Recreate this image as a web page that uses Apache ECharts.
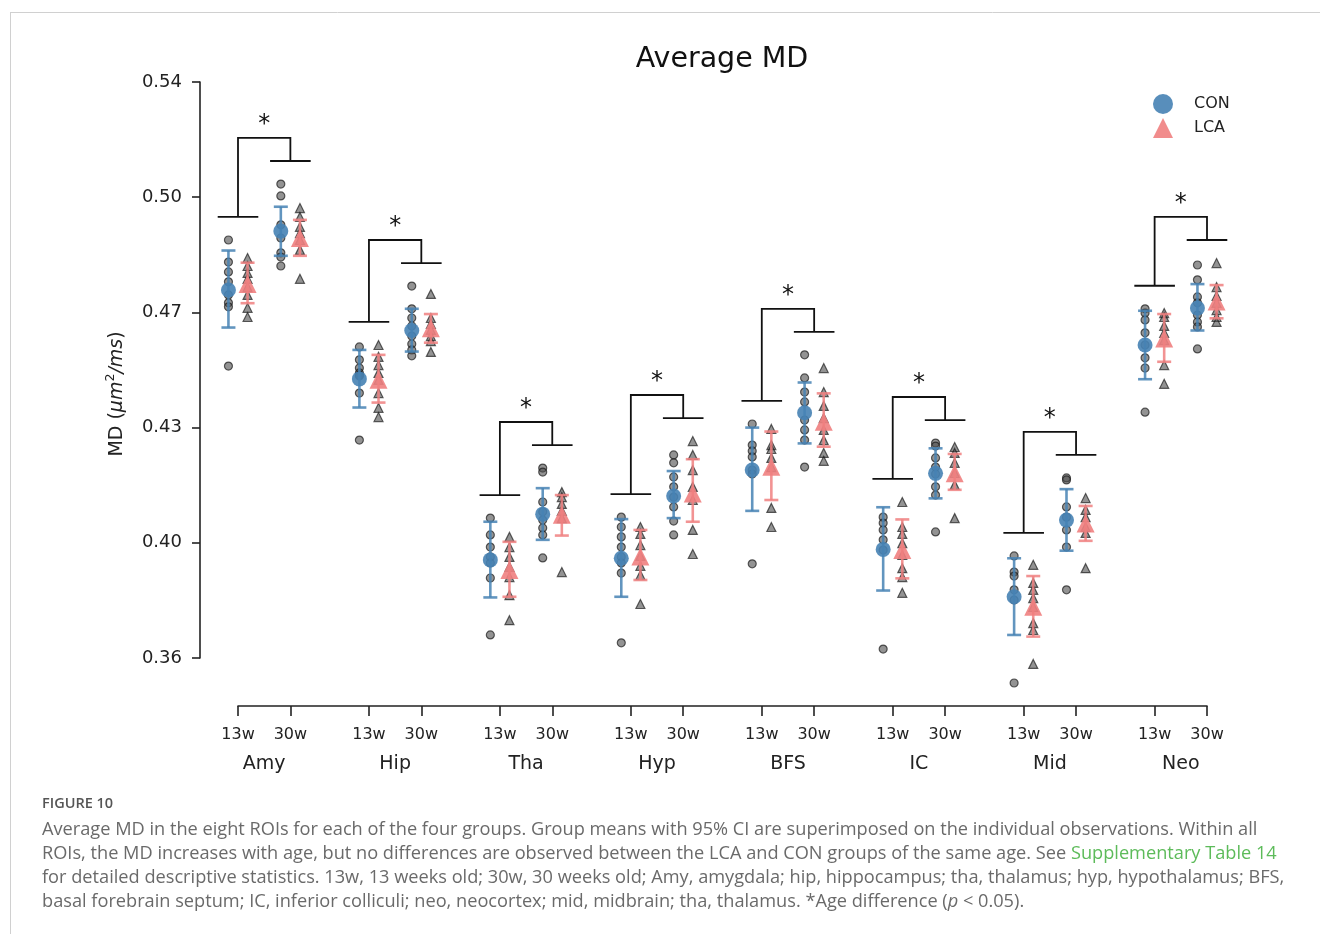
<!DOCTYPE html>
<html><head><meta charset="utf-8">
<script src="https://cdn.jsdelivr.net/npm/echarts@6/dist/echarts.min.js"></script>
<style>html,body{margin:0;padding:0;background:#fff}#c{width:1320px;height:934px}</style>
</head><body><div id="c"></div>
<script>
// ---------------- data ----------------
const regions = ['Amy','Hip','Tha','Hyp','BFS','IC','Mid','Neo'];
const ages = ['13w','30w'];
const groups = ['CON','LCA'];
const yTickValues = [0.36,0.395,0.43,0.465,0.50,0.535];
const yTickLabels = ['0.36','0.40','0.43','0.47','0.50','0.54'];

// individual observations (MD, um^2/ms)
const conPts13 = [
  [0.4870,0.4803,0.4773,0.4743,0.4703,0.4679,0.4667,0.4487],
  [0.4545,0.4506,0.4481,0.4466,0.4460,0.4457,0.4405,0.4262],
  [0.4025,0.3974,0.3937,0.3907,0.3889,0.3843,0.3670],
  [0.4028,0.3998,0.3968,0.3937,0.3907,0.3889,0.3858,0.3646],
  [0.4311,0.4247,0.4229,0.4211,0.4171,0.4159,0.3886],
  [0.4028,0.4010,0.3989,0.3959,0.3928,0.3627],
  [0.3910,0.3861,0.3849,0.3807,0.3776,0.3524],
  [0.4661,0.4648,0.4627,0.4588,0.4551,0.4512,0.4481,0.4347]
];
const lcaPts13 = [
  [0.4815,0.4791,0.4770,0.4752,0.4727,0.4703,0.4664,0.4636],
  [0.4551,0.4515,0.4490,0.4466,0.4445,0.4405,0.4360,0.4332],
  [0.3968,0.3937,0.3907,0.3877,0.3846,0.3791,0.3715],
  [0.3998,0.3977,0.3943,0.3910,0.3880,0.3852,0.3764],
  [0.4296,0.4247,0.4235,0.4208,0.4180,0.4056,0.3998],
  [0.4074,0.3998,0.3977,0.3949,0.3913,0.3873,0.3846,0.3798],
  [0.3883,0.3828,0.3807,0.3782,0.3755,0.3706,0.3685,0.3582],
  [0.4648,0.4636,0.4609,0.4588,0.4566,0.4490,0.4433]
];
const conPts30 = [
  [0.5040,0.5004,0.4916,0.4876,0.4831,0.4818,0.4791],
  [0.4730,0.4661,0.4633,0.4609,0.4578,0.4554,0.4536,0.4518],
  [0.4177,0.4165,0.4074,0.4044,0.4019,0.3995,0.3974,0.3904],
  [0.4217,0.4193,0.4150,0.4120,0.4089,0.4059,0.4016,0.3974],
  [0.4521,0.4451,0.4408,0.4378,0.4323,0.4293,0.4262,0.4180],
  [0.4253,0.4244,0.4208,0.4180,0.4159,0.4120,0.4095,0.3983],
  [0.4147,0.4141,0.4059,0.4028,0.3989,0.3937,0.3807],
  [0.4794,0.4749,0.4697,0.4679,0.4642,0.4621,0.4606,0.4539]
];
const lcaPts30 = [
  [0.4967,0.4940,0.4910,0.4891,0.4870,0.4840,0.4752],
  [0.4706,0.4633,0.4615,0.4597,0.4578,0.4563,0.4530],
  [0.4104,0.4089,0.4068,0.4047,0.4025,0.3861],
  [0.4259,0.4217,0.4171,0.4120,0.4080,0.3989,0.3916],
  [0.4481,0.4408,0.4366,0.4329,0.4293,0.4262,0.4223,0.4199],
  [0.4241,0.4223,0.4193,0.4162,0.4126,0.4025],
  [0.4086,0.4050,0.4028,0.3998,0.3980,0.3873],
  [0.4800,0.4727,0.4700,0.4679,0.4657,0.4636,0.4621]
];

// group means and 95% CI
const conMean13 = [0.4718,0.4448,0.3898,0.3903,0.4171,0.3930,0.3786,0.4551];
const conCI13 = [[0.4604,0.4838],[0.4361,0.4536],[0.3784,0.4014],[0.3786,0.4022],[0.4047,0.4300],[0.3805,0.4058],[0.3670,0.3903],[0.4447,0.4655]];
const lcaMean13 = [0.4736,0.4445,0.3867,0.3908,0.4181,0.3928,0.3756,0.4571];
const lcaCI13 = [[0.4678,0.4801],[0.4376,0.4521],[0.3786,0.3953],[0.3837,0.3989],[0.4080,0.4288],[0.3842,0.4021],[0.3665,0.3849],[0.4500,0.4645]];
const conMean30 = [0.4897,0.4595,0.4037,0.4092,0.4345,0.4161,0.4019,0.4663];
const conCI30 = [[0.4822,0.4971],[0.4531,0.4661],[0.3959,0.4116],[0.4025,0.4168],[0.4252,0.4437],[0.4085,0.4237],[0.3926,0.4113],[0.4595,0.4736]];
const lcaMean30 = [0.4876,0.4602,0.4035,0.4100,0.4318,0.4161,0.4009,0.4683];
const lcaCI30 = [[0.4822,0.4931],[0.4558,0.4645],[0.3972,0.4095],[0.4014,0.4204],[0.4242,0.4404],[0.4111,0.4220],[0.3956,0.4062],[0.4632,0.4733]];

// significance (age difference) per region
const ageSignificant = [true,true,true,true,true,true,true,true];

// ---------------- layout constants ----------------
const AGE_GAP = 0.4;      // x distance 13w -> 30w within a region
const DODGE = 0.073;      // CON left / LCA right
const ARM = 0.155;        // bracket arm half width
const BR_OFF = 0.007;     // bracket offset above data
const FONT = "'DejaVu Sans', sans-serif";
const CAP = '"Open Sans", sans-serif';
const BLUE = '#4682b4', PINK = '#f08080';

function ptsData(arr, ageIdx, dodge) {
  const out = [];
  arr.forEach((vals, i) => vals.forEach(v => out.push([i + ageIdx * AGE_GAP + dodge, v])));
  return out;
}
function meanData(m13, m30, dodge) {
  const out = [];
  m13.forEach((v, i) => out.push([i + dodge, v]));
  m30.forEach((v, i) => out.push([i + AGE_GAP + dodge, v]));
  return out;
}
function ciData(c13, c30, dodge) {
  const out = [];
  c13.forEach((c, i) => out.push([i + dodge, c[0], c[1]]));
  c30.forEach((c, i) => out.push([i + AGE_GAP + dodge, c[0], c[1]]));
  return out;
}
const bracketData = regions.map((r, i) => {
  const m13 = Math.max(...conPts13[i], ...lcaPts13[i]) + BR_OFF;
  const m30 = Math.max(...conPts30[i], ...lcaPts30[i]) + BR_OFF;
  const top = Math.max(m13, m30) + BR_OFF;
  return [i, m13, m30, top, i + AGE_GAP];
}).filter((d, i) => ageSignificant[i]);

const xTickValues = regions.flatMap((r, i) => [i, i + AGE_GAP]);
const regionCenters = regions.map((r, i) => i + AGE_GAP / 2);

function errRender(color) {
  return function (params, api) {
    const x = api.value(0);
    const p1 = api.coord([x, api.value(1)]);
    const p2 = api.coord([x, api.value(2)]);
    const w = 7;
    const st = { stroke: color, lineWidth: 2.6, opacity: 0.85 };
    return { type: 'group', children: [
      { type: 'line', shape: { x1: p1[0], y1: p1[1], x2: p2[0], y2: p2[1] }, style: st },
      { type: 'line', shape: { x1: p1[0] - w, y1: p1[1], x2: p1[0] + w, y2: p1[1] }, style: st },
      { type: 'line', shape: { x1: p2[0] - w, y1: p2[1], x2: p2[0] + w, y2: p2[1] }, style: st }
    ]};
  };
}
function bracketRender(params, api) {
  const x13 = api.value(0), l13 = api.value(1), l30 = api.value(2), top = api.value(3), x30 = api.value(4);
  const a1 = api.coord([x13 - ARM, l13]), a2 = api.coord([x13 + ARM, l13]);
  const v1 = api.coord([x13, l13]), v2 = api.coord([x13, top]);
  const t2 = api.coord([x30, top]), w1 = api.coord([x30, l30]);
  const b1 = api.coord([x30 - ARM, l30]), b2 = api.coord([x30 + ARM, l30]);
  const mid = api.coord([(x13 + x30) / 2, top]);
  const st = { stroke: '#111', lineWidth: 1.8, fill: null };
  return { type: 'group', children: [
    { type: 'line', shape: { x1: a1[0], y1: a1[1], x2: a2[0], y2: a2[1] }, style: st },
    { type: 'polyline', shape: { points: [v1, v2, t2, w1] }, style: st },
    { type: 'line', shape: { x1: b1[0], y1: b1[1], x2: b2[0], y2: b2[1] }, style: st },
    { type: 'text', x: mid[0], y: mid[1] - 1, style: { text: '*', fill: '#111', font: '24px ' + FONT, align: 'center', verticalAlign: 'bottom' } }
  ]};
}

const pointStyle = { color: 'rgba(75,75,75,0.75)', borderColor: 'rgba(25,25,25,0.85)', borderWidth: 1.2 };

const option = {
  animation: false,
  backgroundColor: '#fff',
  grid: { left: 238, right: 113, top: 82, bottom: 276, containLabel: false },
  xAxis: [
    { type: 'value', min: 0, max: regions.length - 1 + AGE_GAP, offset: 48,
      axisLine: { show: true, onZero: false, lineStyle: { color: '#222', width: 1.6 } },
      axisTick: { show: true, customValues: xTickValues, length: 10, lineStyle: { color: '#222', width: 1.6 } },
      axisLabel: { show: true, customValues: xTickValues, margin: 21, fontSize: 16, fontFamily: FONT, color: '#222',
        formatter: v => ages[Math.abs(v - Math.round(v)) < 0.01 ? 0 : 1] },
      splitLine: { show: false } },
    { type: 'value', min: 0, max: regions.length - 1 + AGE_GAP, offset: 48, position: 'bottom',
      axisLine: { show: false, onZero: false }, axisTick: { show: false }, splitLine: { show: false },
      axisLabel: { show: true, customValues: regionCenters, margin: 49, fontSize: 19, fontFamily: FONT, color: '#222',
        formatter: v => regions[Math.round(v - AGE_GAP / 2)] } }
  ],
  yAxis: { type: 'value', min: yTickValues[0], max: yTickValues[yTickValues.length - 1], offset: 38,
    axisLine: { show: true, onZero: false, lineStyle: { color: '#222', width: 1.6 } },
    axisTick: { show: true, customValues: yTickValues, length: 8, lineStyle: { color: '#222', width: 1.6 } },
    axisLabel: { show: true, customValues: yTickValues, margin: 18, fontSize: 18, fontFamily: FONT, color: '#222',
      formatter: v => { let k = 0, d = 1; yTickValues.forEach((t, j) => { if (Math.abs(t - v) < d) { d = Math.abs(t - v); k = j; } }); return yTickLabels[k]; } },
    splitLine: { show: false },
    name: '{a|MD (}{i|μm}{s|2}{i|/ms}{a|)}', nameLocation: 'middle', nameRotate: 90, nameGap: 70,
    nameTextStyle: { color: '#222', fontFamily: FONT, fontSize: 19, padding: [0, 48, 0, 0],
      rich: { a: { fontSize: 19, fontFamily: FONT, color: '#222', lineHeight: 26 },
              i: { fontSize: 19, fontFamily: FONT, fontStyle: 'italic', color: '#222', lineHeight: 26 },
              s: { fontSize: 12.5, fontFamily: FONT, color: '#222', verticalAlign: 'top', lineHeight: 13 } } }
  },
  legend: { orient: 'vertical', left: 1153, top: 94, padding: 0, itemWidth: 20, itemHeight: 20, itemGap: 4,
    data: [{ name: 'CON', icon: 'circle' }, { name: 'LCA', icon: 'triangle' }],
    textStyle: { fontSize: 16, fontFamily: FONT, color: '#222', padding: [0, 0, 0, 16] } },
  graphic: [
    { type: 'line', shape: { x1: 10, y1: 12.5, x2: 1320, y2: 12.5 }, style: { stroke: '#d0d0d0', lineWidth: 1 } },
    { type: 'line', shape: { x1: 10.5, y1: 12, x2: 10.5, y2: 934 }, style: { stroke: '#d0d0d0', lineWidth: 1 } },
    { type: 'text', x: 722, y: 60, style: { text: 'Average MD', font: '28.5px ' + FONT, fill: '#111', align: 'center', verticalAlign: 'middle' } },
    { type: 'text', x: 42, y: 804, style: { text: 'FIGURE 10', font: '600 14.5px ' + CAP, fill: '#555', verticalAlign: 'middle' } },
    { type: 'text', x: 42, y: 830, style: { text: 'Average MD in the eight ROIs for each of the four groups. Group means with 95% CI are superimposed on the individual observations. Within all', font: '18.2px ' + CAP, fill: '#6a6a6a', verticalAlign: 'middle' } },
    { type: 'text', x: 42, y: 854, style: { text: '{n|ROIs, the MD increases with age, but no differences are observed between the LCA and CON groups of the same age. See }{g|Supplementary Table 14}', font: '18.2px ' + CAP, fill: '#6a6a6a', verticalAlign: 'middle',
      rich: { n: { fill: '#6a6a6a', fontSize: 18.2, fontFamily: CAP }, g: { fill: '#5dbb5a', fontSize: 18.2, fontFamily: CAP } } } },
    { type: 'text', x: 42, y: 878, style: { text: 'for detailed descriptive statistics. 13w, 13 weeks old; 30w, 30 weeks old; Amy, amygdala; hip, hippocampus; tha, thalamus; hyp, hypothalamus; BFS,', font: '18.2px ' + CAP, fill: '#6a6a6a', verticalAlign: 'middle' } },
    { type: 'text', x: 42, y: 902, style: { text: '{n|basal forebrain septum; IC, inferior colliculi; neo, neocortex; mid, midbrain; tha, thalamus. *Age difference (}{p|p}{n| < 0.05).}', font: '18.2px ' + CAP, fill: '#6a6a6a', verticalAlign: 'middle',
      rich: { n: { fill: '#6a6a6a', fontSize: 18.2, fontFamily: CAP }, p: { fill: '#6a6a6a', fontSize: 18.2, fontStyle: 'italic', fontFamily: CAP } } } }
  ],
  series: [
    { name: 'CON pts', type: 'scatter', clip: false, symbol: 'circle', symbolSize: 8, itemStyle: pointStyle, z: 2,
      data: ptsData(conPts13, 0, -DODGE).concat(ptsData(conPts30, 1, -DODGE)) },
    { name: 'LCA pts', type: 'scatter', clip: false, symbol: 'triangle', symbolSize: 9, itemStyle: pointStyle, z: 2,
      data: ptsData(lcaPts13, 0, DODGE).concat(ptsData(lcaPts30, 1, DODGE)) },
    { name: 'CON ci', type: 'custom', renderItem: errRender(BLUE), encode: { x: 0, y: [1, 2] }, z: 3,
      data: ciData(conCI13, conCI30, -DODGE) },
    { name: 'LCA ci', type: 'custom', renderItem: errRender(PINK), encode: { x: 0, y: [1, 2] }, z: 3,
      data: ciData(lcaCI13, lcaCI30, DODGE) },
    { name: 'CON', type: 'scatter', clip: false, symbol: 'circle', symbolSize: 15, z: 4,
      itemStyle: { color: BLUE, opacity: 0.9 }, data: meanData(conMean13, conMean30, -DODGE) },
    { name: 'LCA', type: 'scatter', clip: false, symbol: 'triangle', symbolSize: 18, z: 4,
      itemStyle: { color: PINK, opacity: 0.9 }, data: meanData(lcaMean13, lcaMean30, DODGE) },
    { name: 'brackets', type: 'custom', renderItem: bracketRender, encode: { x: 0, y: [1, 2, 3] }, z: 5,
      data: bracketData }
  ]
};
const chart = echarts.init(document.getElementById('c'));
chart.setOption(option);
</script></body></html>
